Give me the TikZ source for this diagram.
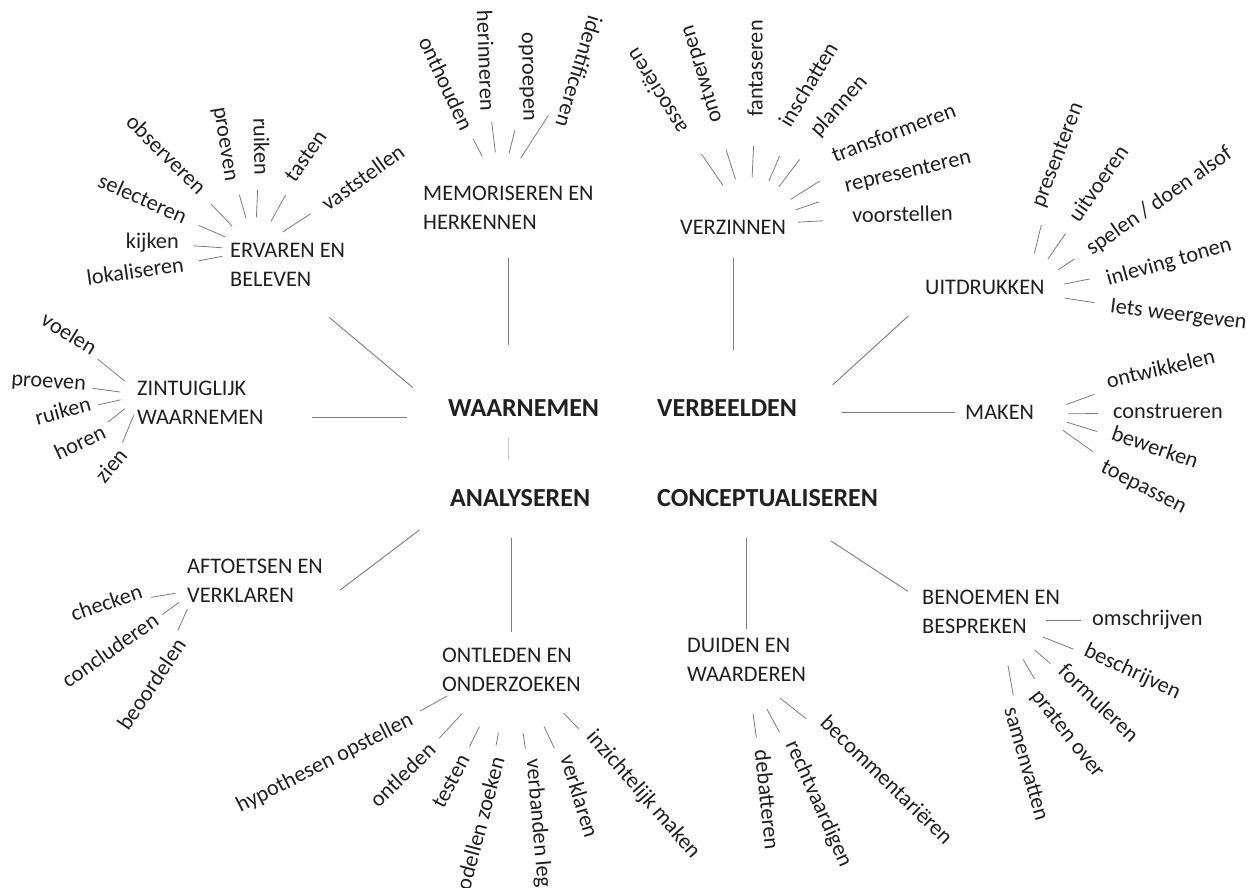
\documentclass[tikz,border=0pt]{standalone}
\usepackage{fontspec}
\setmainfont{Carlito}
\usepackage{tikz}
\definecolor{inkgray}{RGB}{32, 32, 32}
\definecolor{spokegray}{RGB}{125, 125, 125}
\newcommand{\leaffont}{\fontsize{22.3}{29}\selectfont}
\newcommand{\corefont}{\fontsize{26}{30}\selectfont\bfseries}

\begin{document}
\begin{tikzpicture}[
  x=1pt, y=1pt,
  core/.style={font=\corefont, text=inkgray, inner sep=0pt, anchor=west},
  hub/.style={font=\leaffont, text=inkgray, inner sep=0pt, align=left, anchor=west},
  leaf/.style={font=\leaffont, text=inkgray, inner sep=1pt, text height=16pt, text depth=5pt},
  lin/.style={leaf, anchor=east, rotate=#1},
  lout/.style={leaf, anchor=west, rotate=#1},
  link/.style={draw=spokegray, line width=0.9pt},
  spoke/.style 2 args={draw=spokegray, line width=0.8pt, shorten <=#1, shorten >=#2}
]
\path[use as bounding box, fill=white] (0,0) rectangle (1251,-887);
\clip (0,0) rectangle (1251,-887);

% the four core activities
\node[core] (waar) at (448,-408.5) {WAARNEMEN};
\node[core] (verb) at (657,-408.5) {VERBEELDEN};
\node[core] (ana) at (450,-498) {ANALYSEREN};
\node[core] (conc) at (657,-498) {CONCEPTUALISEREN};

% sub activities
\node[hub] (erv) at (230,-264.5) {ERVAREN EN\\BELEVEN};
\node[hub] (mem) at (423,-207.5) {MEMORISEREN EN\\HERKENNEN};
\node[hub] (verz) at (680,-227) {VERZINNEN};
\node[hub] (uit) at (925,-287) {UITDRUKKEN};
\node[hub] (zin) at (137,-402.5) {ZINTUIGLIJK\\WAARNEMEN};
\node[hub] (mak) at (965,-412) {MAKEN};
\node[hub] (aft) at (187,-581) {AFTOETSEN EN\\VERKLAREN};
\node[hub] (ont) at (442,-670) {ONTLEDEN EN\\ONDERZOEKEN};
\node[hub] (dui) at (687,-660) {DUIDEN EN\\WAARDEREN};
\node[hub] (ben) at (922,-611.5) {BENOEMEN EN\\BESPREKEN};

% centres the short spokes point to
\coordinate (ervc) at (255,-250);
\coordinate (memc) at (500,-190);
\coordinate (verzc) at (750,-225);
\coordinate (uitc) at (1025,-292);
\coordinate (zinc) at (142,-395);
\coordinate (makc) at (1040,-414);
\coordinate (aftc) at (196,-590);
\coordinate (ontc) at (512,-660);
\coordinate (duic) at (747,-672);
\coordinate (benc) at (1000,-620);

% links to the core
\draw[link, shorten <=48pt, shorten >=46pt] (erv.-78) -- (waar.south west);
\draw[link, shorten <=29pt, shorten >=55pt] (mem.south) -- (mem.south |- waar.north);
\draw[link, shorten <=24pt, shorten >=50pt] (verz.south) -- (verz.south |- verb.north);
\draw[link, shorten <=32pt, shorten >=48pt] (uit.188) -- (verb.south east);
\draw[link, shorten <=48pt, shorten >=41pt] (zin.east |- waar.south) -- (waar.south west);
\draw[link, shorten <=10pt, shorten >=45pt] (mak.west) -- (mak.west -| verb.east);
\draw[link, shorten <=21pt, shorten >=38pt] (aft.south east) -- (ana.south west);
\draw[link, shorten <=16pt, shorten >=31pt] (ont.north) -- (ont.north |- ana.south);
\draw[link, shorten <=9pt, shorten >=31pt] (dui.north) -- (dui.north |- conc.south);
\draw[link, shorten <=17pt, shorten >=62pt] (ben.171) -- (conc.-38);
\draw[link, draw=spokegray!40, shorten <=20pt, shorten >=29pt] (waar.south -| mem.south) -- (ana.north -| mem.south);

% ervaren en beleven
\node[lin=-45] (erv1) at (202,-193) {observeren};
\node[lin=-81] (erv2) at (231,-182) {proeven};
\node[lin=-89] (erv3) at (260,-176) {ruiken};
\node[lout=55] (erv4) at (290,-181) {tasten};
\node[lout=36] (erv5) at (324,-208) {vaststellen};
\node[lin=-24] (erv6) at (186,-220) {selecteren};
\node[lin=0] (erv7) at (180,-243) {kijken};
\node[lin=8] (erv8) at (185,-266) {lokaliseren};
\draw[spoke={33pt}{14pt}] (ervc) -- (erv1);
\draw[spoke={33pt}{14pt}] (ervc) -- (erv2);
\draw[spoke={33pt}{14pt}] (ervc) -- (erv3);
\draw[spoke={33pt}{14pt}] (ervc) -- (erv4);
\draw[spoke={33pt}{14pt}] (ervc) -- (erv5);
\draw[spoke={33pt}{14pt}] (ervc) -- (erv6);
\draw[spoke={33pt}{14pt}] (ervc) -- (erv7);
\draw[spoke={33pt}{14pt}] (ervc) -- (erv8);

% memoriseren en herkennen
\node[lin=-65] (mem1) at (466,-131) {onthouden};
\node[lin=-88] (mem2) at (486,-112) {herinneren};
\node[lin=-89] (mem3) at (529,-122) {oproepen};
\node[lin=-107] (mem4) at (560,-127) {identificeren};
\draw[spoke={38pt}{10pt}] (memc) -- (mem1);
\draw[spoke={38pt}{10pt}] (memc) -- (mem2);
\draw[spoke={38pt}{10pt}] (memc) -- (mem3);
\draw[spoke={38pt}{10pt}] (memc) -- (mem4);

% verzinnen
\node[lout=122] (verz1) at (684,-132) {associëren};
\node[lout=107] (verz2) at (717,-123) {ontwerpen};
\node[lout=90] (verz3) at (757,-118) {fantaseren};
\node[lout=59] (verz4) at (785,-127) {inschatten};
\node[lout=48] (verz5) at (814,-135) {plannen};
\node[lout=21] (verz6) at (832,-158) {transformeren};
\node[lout=13] (verz7) at (844,-187) {representeren};
\node[lout=1] (verz8) at (851,-217) {voorstellen};
\draw[spoke={48pt}{28pt}] (verzc) -- (verz1);
\draw[spoke={48pt}{28pt}] (verzc) -- (verz2);
\draw[spoke={48pt}{28pt}] (verzc) -- (verz3);
\draw[spoke={48pt}{28pt}] (verzc) -- (verz4);
\draw[spoke={48pt}{28pt}] (verzc) -- (verz5);
\draw[spoke={48pt}{28pt}] (verzc) -- (verz6);
\draw[spoke={48pt}{28pt}] (verzc) -- (verz7);
\draw[spoke={48pt}{28pt}] (verzc) -- (verz8);

% uitdrukken
\node[lout=69] (uit1) at (1038,-208) {presenteren};
\node[lout=55] (uit2) at (1074,-221) {uitvoeren};
\node[lout=35] (uit3) at (1088,-252) {spelen / doen alsof};
\node[lout=16] (uit4) at (1106,-281) {inleving tonen};
\node[lout=-7] (uit5) at (1109,-307) {Iets weergeven};
\draw[spoke={40pt}{15pt}] (uitc) -- (uit1);
\draw[spoke={40pt}{15pt}] (uitc) -- (uit2);
\draw[spoke={40pt}{15pt}] (uitc) -- (uit3);
\draw[spoke={40pt}{15pt}] (uitc) -- (uit4);
\draw[spoke={40pt}{15pt}] (uitc) -- (uit5);

% zintuiglijk waarnemen
\node[lin=-32] (zin1) at (95,-352) {voelen};
\node[lin=-4] (zin2) at (87,-385) {proeven};
\node[lin=15] (zin3) at (92,-405) {ruiken};
\node[lin=25] (zin4) at (106,-432) {horen};
\node[lin=50] (zin5) at (125,-452) {zien};
\draw[spoke={22pt}{6pt}] (zinc) -- (zin1);
\draw[spoke={22pt}{6pt}] (zinc) -- (zin2);
\draw[spoke={22pt}{6pt}] (zinc) -- (zin3);
\draw[spoke={22pt}{6pt}] (zinc) -- (zin4);
\draw[spoke={22pt}{6pt}] (zinc) -- (zin5);

% maken
\node[lout=13] (mak1) at (1106,-383) {ontwikkelen};
\node[lout=0] (mak2) at (1112,-413) {construeren};
\node[lout=-19] (mak3) at (1111,-434) {bewerken};
\node[lout=-27] (mak4) at (1101,-466) {toepassen};
\draw[spoke={28pt}{14pt}] (makc) -- (mak1);
\draw[spoke={28pt}{14pt}] (makc) -- (mak2);
\draw[spoke={28pt}{14pt}] (makc) -- (mak3);
\draw[spoke={28pt}{14pt}] (makc) -- (mak4);

% aftoetsen en verklaren
\node[lin=19] (aft1) at (143,-592) {checken};
\node[lin=35] (aft2) at (158,-619) {concluderen};
\node[lin=56] (aft3) at (183,-641) {beoordelen};
\draw[spoke={21pt}{6pt}] (aftc) -- (aft1);
\draw[spoke={21pt}{6pt}] (aftc) -- (aft2);
\draw[spoke={21pt}{6pt}] (aftc) -- (aft3);

% ontleden en onderzoeken
\node[lin=27] (ont1) at (413,-719) {hypothesen opstellen};
\node[lin=44] (ont2) at (434,-747) {ontleden};
\node[lin=62] (ont3) at (466,-756) {testen};
\node[lin=75] (ont4) at (500,-757) {modellen zoeken};
\node[lout=-85] (ont5) at (532,-758) {verbanden leggen};
\node[lout=-73] (ont6) at (565,-755) {verklaren};
\node[lout=-49] (ont7) at (589,-733) {inzichtelijk maken};
\draw[spoke={74pt}{10pt}] (ontc) -- (ont1);
\draw[spoke={74pt}{10pt}] (ontc) -- (ont2);
\draw[spoke={74pt}{10pt}] (ontc) -- (ont3);
\draw[spoke={74pt}{10pt}] (ontc) -- (ont4);
\draw[spoke={74pt}{10pt}] (ontc) -- (ont5);
\draw[spoke={74pt}{10pt}] (ontc) -- (ont6);
\draw[spoke={74pt}{10pt}] (ontc) -- (ont7);

% duiden en waarderen
\node[lout=-84] (dui1) at (760,-749) {debatteren};
\node[lout=-66] (dui2) at (790,-741) {rechtvaardigen};
\node[lout=-44] (dui3) at (822,-720) {becommentariëren};
\draw[spoke={42pt}{12pt}] (duic) -- (dui1);
\draw[spoke={42pt}{12pt}] (duic) -- (dui2);
\draw[spoke={42pt}{12pt}] (duic) -- (dui3);

% benoemen en bespreken
\node[lout=0] (ben1) at (1091,-620) {omschrijven};
\node[lout=-25] (ben2) at (1084,-650) {beschrijven};
\node[lout=-44] (ben3) at (1060,-668) {formuleren};
\node[lout=-52] (ben4) at (1034,-692) {praten over};
\node[lout=-74] (ben5) at (1009,-707) {samenvatten};
\draw[spoke={46pt}{10pt}] (benc) -- (ben1);
\draw[spoke={46pt}{10pt}] (benc) -- (ben2);
\draw[spoke={46pt}{10pt}] (benc) -- (ben3);
\draw[spoke={46pt}{10pt}] (benc) -- (ben4);
\draw[spoke={46pt}{10pt}] (benc) -- (ben5);
\end{tikzpicture}
\end{document}
